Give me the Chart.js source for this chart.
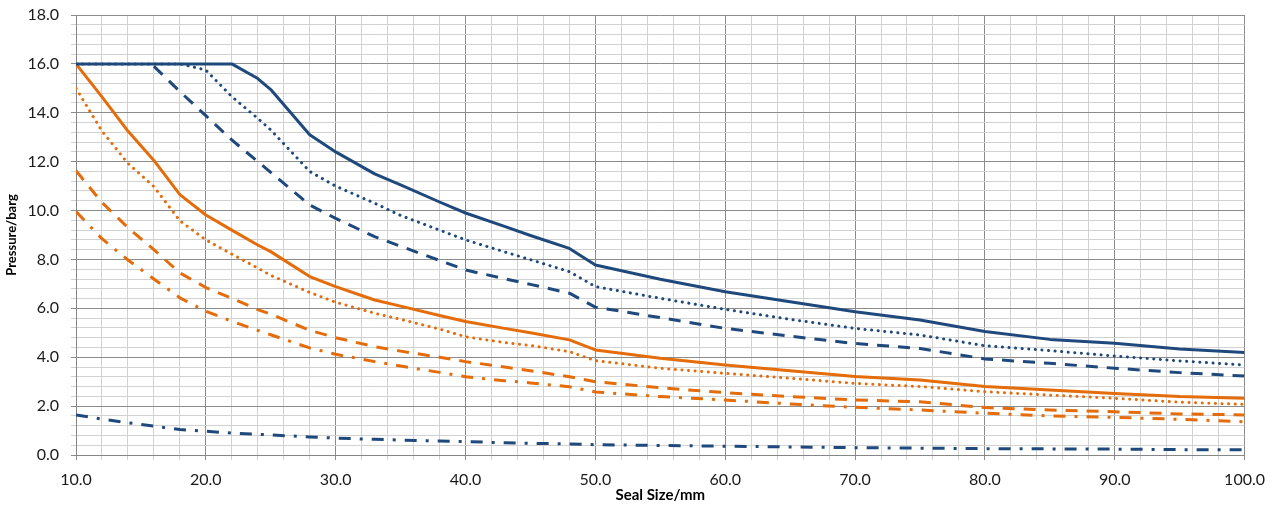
<!DOCTYPE html>
<html>
<head>
<meta charset="utf-8">
<title>Pressure vs Seal Size</title>
<script src="https://cdn.jsdelivr.net/npm/chart.js@4.4.0/dist/chart.umd.min.js"></script>
<style>
  body { margin: 0; background: #fff; }
  .chart-wrap { width: 1275px; height: 508px; position: relative; }
</style>
</head>
<body>
<div class="chart-wrap"><canvas id="sealChart"></canvas></div>
<script>
// seal sizes (mm) shared by every curve
const sealSize = [10, 12, 14, 16, 18, 20, 22, 24, 25, 28, 30, 33, 35, 38, 40, 43, 45, 48, 50, 55, 60, 65, 70, 75, 80, 85, 90, 95, 100];

// pressure (barg)
const blueSolid  = [16, 16, 16, 16, 16, 16, 16, 15.4, 14.95, 13.1, 12.4, 11.5, 11.05, 10.35, 9.9, 9.35, 8.98, 8.45, 7.77, 7.19, 6.68, 6.27, 5.86, 5.52, 5.05, 4.73, 4.57, 4.34, 4.19];
const blueDotted = [16, 16, 16, 16, 16, 15.75, 14.66, 13.77, 13.3, 11.6, 11.0, 10.3, 9.8, 9.2, 8.8, 8.31, 7.99, 7.5, 6.89, 6.41, 5.96, 5.55, 5.18, 4.91, 4.47, 4.27, 4.05, 3.85, 3.68];
const blueDashed = [null, null, null, 15.9, 14.87, 13.88, 12.89, 12.0, 11.56, 10.23, 9.68, 8.93, 8.54, 7.96, 7.57, 7.21, 6.98, 6.62, 6.05, 5.62, 5.18, 4.86, 4.56, 4.36, 3.93, 3.75, 3.55, 3.37, 3.23];
const blueDashDot = [1.64, 1.47, 1.32, 1.18, 1.04, 0.97, 0.9, 0.85, 0.82, 0.74, 0.69, 0.64, 0.61, 0.57, 0.55, 0.5, 0.48, 0.45, 0.42, 0.39, 0.36, 0.33, 0.3, 0.28, 0.26, 0.25, 0.24, 0.22, 0.21];
const orangeSolid  = [16, 14.65, 13.25, 12.05, 10.65, 9.82, 9.2, 8.59, 8.32, 7.3, 6.89, 6.34, 6.09, 5.71, 5.46, 5.18, 5.0, 4.71, 4.3, 3.96, 3.68, 3.45, 3.21, 3.07, 2.8, 2.66, 2.52, 2.39, 2.32];
const orangeDotted = [15.0, 13.25, 11.93, 10.98, 9.58, 8.8, 8.22, 7.65, 7.35, 6.65, 6.25, 5.8, 5.55, 5.15, 4.84, 4.6, 4.48, 4.23, 3.86, 3.55, 3.34, 3.14, 2.93, 2.8, 2.59, 2.45, 2.32, 2.16, 2.07];
const orangeDashed = [11.63, 10.33, 9.3, 8.4, 7.45, 6.85, 6.41, 5.95, 5.76, 5.1, 4.8, 4.43, 4.25, 4.0, 3.82, 3.6, 3.45, 3.2, 3.0, 2.75, 2.55, 2.39, 2.25, 2.18, 1.94, 1.84, 1.77, 1.68, 1.64];
const orangeDashDot = [9.96, 8.85, 7.98, 7.2, 6.43, 5.88, 5.47, 5.1, 4.92, 4.38, 4.12, 3.82, 3.64, 3.38, 3.2, 3.04, 2.95, 2.79, 2.58, 2.39, 2.25, 2.09, 1.95, 1.84, 1.71, 1.6, 1.54, 1.46, 1.36];

// axis ticks
const xTicks = [10, 20, 30, 40, 50, 60, 70, 80, 90, 100];
const yTicks = [0, 2, 4, 6, 8, 10, 12, 14, 16, 18];

const BLUE = '#1F497D';
const ORANGE = '#E46C0A';
const DOT = [0.1, 6.5];
const DASH = [12, 9];
const DASH_DOT = [12, 9, 3, 9];

function points(values) {
  return sealSize.map(function (x, i) { return { x: x, y: values[i] }; });
}

function series(label, values, color, dash, round) {
  return {
    label: label,
    data: points(values),
    borderColor: color,
    backgroundColor: color,
    borderWidth: 3,
    borderDash: dash,
    borderCapStyle: round ? 'round' : 'butt',
    borderJoinStyle: 'round',
    pointRadius: 0,
    tension: 0,
    fill: false,
    spanGaps: false
  };
}

function isOn(list, v) {
  return list.some(function (t) { return Math.abs(t - v) < 1e-6; });
}

const FONT = 'Lato, "Open Sans", sans-serif';

const ctx = document.getElementById('sealChart').getContext('2d');
new Chart(ctx, {
  type: 'line',
  data: {
    datasets: [
      series('Blue solid', blueSolid, BLUE, [], false),
      series('Blue dotted', blueDotted, BLUE, DOT, true),
      series('Blue dashed', blueDashed, BLUE, DASH, false),
      series('Blue dash dot', blueDashDot, BLUE, DASH_DOT, false),
      series('Orange solid', orangeSolid, ORANGE, [], false),
      series('Orange dotted', orangeDotted, ORANGE, DOT, true),
      series('Orange dashed', orangeDashed, ORANGE, DASH, false),
      series('Orange dash dot', orangeDashDot, ORANGE, DASH_DOT, false)
    ]
  },
  options: {
    responsive: true,
    maintainAspectRatio: false,
    animation: false,
    layout: { padding: { top: 15, right: 29, left: 0, bottom: 0 } },
    plugins: {
      legend: { display: false },
      tooltip: { enabled: false }
    },
    scales: {
      x: {
        type: 'linear',
        min: 10,
        max: 100,
        afterFit: function (scale) { scale.height = 53; },
        ticks: {
          stepSize: 2,
          autoSkip: false,
          maxRotation: 0,
          padding: 10,
          color: '#1a1a1a',
          font: { family: FONT, size: 16 },
          callback: function (v) { return isOn(xTicks, v) ? v.toFixed(1) : ''; }
        },
        grid: {
          tickLength: 5,
          lineWidth: 1,
          color: function (c) { return c.tick && isOn(xTicks, c.tick.value) ? '#8c8c8c' : '#d2d2d2'; }
        },
        border: { color: '#868686' },
        title: {
          display: true,
          text: 'Seal Size/mm',
          color: '#000',
          font: { family: FONT, size: 15, weight: 'bold' },
          padding: { top: 0, bottom: 4 }
        }
      },
      y: {
        min: 0,
        max: 18,
        afterFit: function (scale) {
          scale.width = 76;
          scale.paddingTop = 0;
          scale.paddingBottom = 0;
        },
        ticks: {
          stepSize: 0.4,
          autoSkip: false,
          padding: 12,
          color: '#1a1a1a',
          font: { family: FONT, size: 16 },
          callback: function (v) { return isOn(yTicks, v) ? v.toFixed(1) : ''; }
        },
        grid: {
          tickLength: 5,
          lineWidth: 1,
          color: function (c) { return c.tick && isOn(yTicks, c.tick.value) ? '#8c8c8c' : '#d2d2d2'; }
        },
        border: { color: '#868686' },
        title: {
          display: true,
          text: 'Pressure/barg',
          color: '#000',
          font: { family: FONT, size: 13, weight: 'bold' },
          padding: { top: 4, bottom: 0 }
        }
      }
    }
  }
});
</script>
</body>
</html>
